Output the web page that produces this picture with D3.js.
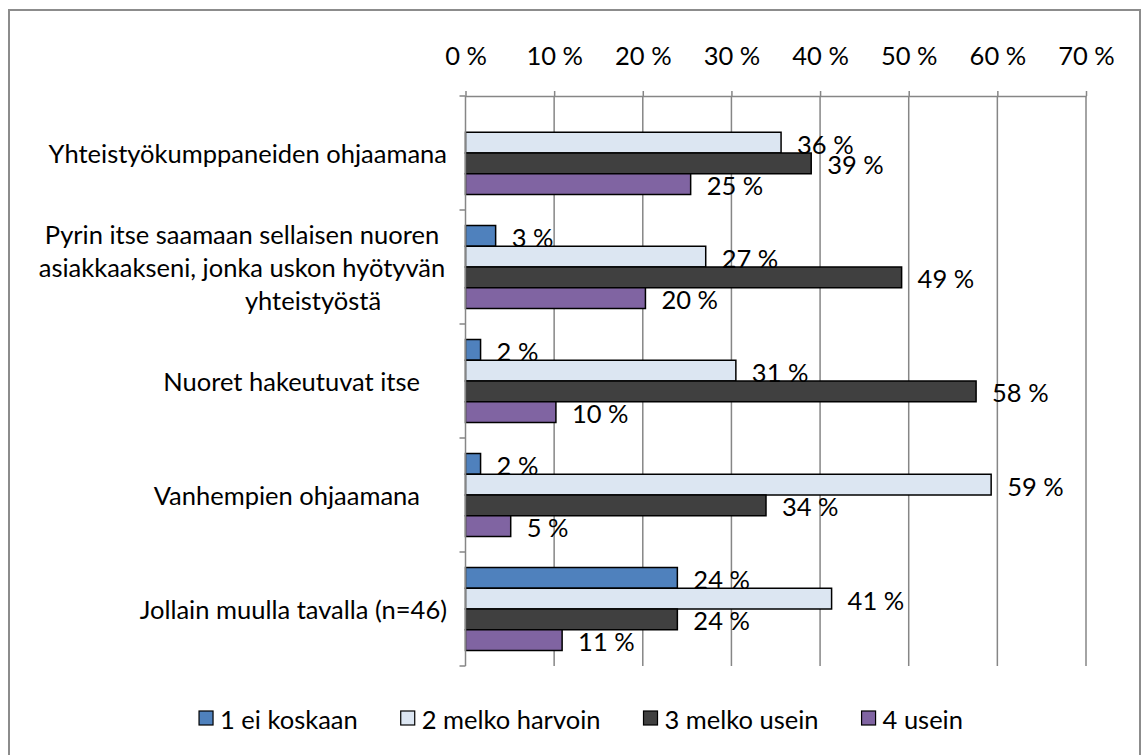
<!DOCTYPE html>
<html>
<head>
<meta charset="utf-8">
<script src="https://cdn.jsdelivr.net/npm/d3@7"></script>
<style>
  body { margin: 0; background: #fff; }
  text { font-family: Lato, "Open Sans", sans-serif; fill: #000; }
</style>
</head>
<body>
<svg id="chart" width="1141" height="755"></svg>
<script>
// data (percent)
var categories = [
    "Yhteistyökumppaneiden ohjaamana",
    "Pyrin itse saamaan sellaisen nuoren\nasiakkaakseni, jonka uskon hyötyvän\nyhteistyöstä",
    "Nuoret hakeutuvat itse",
    "Vanhempien ohjaamana",
    "Jollain muulla tavalla (n=46)"
];
var seriesNames = ["1 ei koskaan", "2 melko harvoin", "3 melko usein", "4 usein"];
var eiKoskaan = [0, 3.4, 1.7, 1.7, 23.9];
var melkoHarvoin = [35.6, 27.1, 30.5, 59.3, 41.3];
var melkoUsein = [39.0, 49.2, 57.6, 33.9, 23.9];
var usein = [25.4, 20.3, 10.2, 5.1, 10.9];
var xTicks = [0, 10, 20, 30, 40, 50, 60, 70];

var seriesValues = [eiKoskaan, melkoHarvoin, melkoUsein, usein];
var colors = ["#4f81bd", "#dce6f2", "#404040", "#8064a2"];
var gridColor = "#868686";

var svg = d3.select("#chart");

// fit a substitute font to the width Calibri had in the original
var probe = svg.append("text").style("font-size", "20px").text(categories[0]);
var fs = Math.round(20 * 399 / probe.node().getComputedTextLength() * 10) / 10;
probe.remove();

// outer frame
svg.append("rect")
    .attr("x", 9).attr("y", 10).attr("width", 1131).attr("height", 800)
    .attr("fill", "none").attr("stroke", "#8c8c8c").attr("stroke-width", 2);

var x = d3.scaleLinear().domain([0, 70]).range([465.5, 1086]);
var y = d3.scaleBand().domain(categories).range([96, 666]);
var inner = d3.scaleBand().domain(seriesNames).range([0, 83]);
var pad = (y.bandwidth() - 83) / 2;

// vertical gridlines
svg.append("g").selectAll("line").data(xTicks.slice(1)).enter().append("line")
    .attr("x1", function (d) { return x(d); }).attr("x2", function (d) { return x(d); })
    .attr("y1", 96).attr("y2", 666)
    .attr("stroke", gridColor).attr("stroke-width", 1.5);

// top value axis
var xAxis = svg.append("g").attr("transform", "translate(0,96)")
    .call(d3.axisTop(x).tickValues(xTicks).tickSize(5).tickSizeOuter(0)
        .tickFormat(function (d) { return d + " %"; }));
xAxis.select(".domain").attr("stroke", gridColor).attr("stroke-width", 1.5);
xAxis.selectAll(".tick line").attr("stroke", gridColor).attr("stroke-width", 1.5);
xAxis.selectAll(".tick text")
    .attr("y", -31).attr("dy", 0)
    .style("font-size", fs + "px").style("font-family", "Lato, 'Open Sans', sans-serif")
    .attr("fill", "#000");

// bars
var rows = [];
categories.forEach(function (c, i) {
    seriesNames.forEach(function (s, j) {
        rows.push({ cat: c, series: s, j: j, v: seriesValues[j][i] });
    });
});

svg.append("g").selectAll("rect").data(rows.filter(function (d) { return d.v > 0; }))
    .enter().append("rect")
    .attr("x", x(0))
    .attr("y", function (d) { return y(d.cat) + pad + inner(d.series); })
    .attr("width", function (d) { return x(d.v) - x(0); })
    .attr("height", inner.bandwidth())
    .attr("fill", function (d) { return colors[d.j]; })
    .attr("stroke", "#000").attr("stroke-width", 1.5);

// data labels
svg.append("g").selectAll("text").data(rows.filter(function (d) { return d.v > 0; }))
    .enter().append("text")
    .attr("x", function (d) { return x(d.v) + 16; })
    .attr("y", function (d) { return y(d.cat) + pad + inner(d.series) + inner.bandwidth() / 2 + 1; })
    .attr("dominant-baseline", "central")
    .style("font-size", fs + "px")
    .text(function (d) { return Math.round(d.v) + " %"; });

// category axis
var yAxis = svg.append("g");
yAxis.append("line").attr("x1", x(0)).attr("x2", x(0)).attr("y1", 96).attr("y2", 666)
    .attr("stroke", gridColor).attr("stroke-width", 1.5);
var bounds = categories.map(function (c) { return y(c); }).concat([y.range()[1]]);
yAxis.selectAll(".tk").data(bounds).enter().append("line")
    .attr("x1", x(0) - 6).attr("x2", x(0))
    .attr("y1", function (d) { return d; }).attr("y2", function (d) { return d; })
    .attr("stroke", gridColor).attr("stroke-width", 1.5);

var lineH = fs * 1.3;
categories.forEach(function (c, i) {
    var lines = c.split("\n");
    var cy = y(c) + y.bandwidth() / 2;
    var t = svg.append("text")
        .style("font-size", fs + "px")
        .attr("text-anchor", lines.length > 1 ? "middle" : "end");
    lines.forEach(function (l, k) {
        // wrapped label: first lines centred, the short last line sits further right as in the original
        var ax = lines.length > 1 ? (k === lines.length - 1 ? 313 : 242) : (i === 2 || i === 3 ? 420 : 447);
        t.append("tspan").attr("x", ax)
            .attr("y", cy + (k - (lines.length - 1) / 2) * lineH)
            .attr("dominant-baseline", "central")
            .text(l);
    });
});

// legend
var legend = svg.append("g").attr("transform", "translate(0,718)");
var items = legend.selectAll("g").data(seriesNames).enter().append("g");
items.append("rect").attr("x", 0).attr("y", -7).attr("width", 14).attr("height", 14)
    .attr("fill", function (d, i) { return colors[i]; })
    .attr("stroke", "#000").attr("stroke-width", 1.2);
items.append("text").attr("x", 21).attr("y", 1).attr("dominant-baseline", "central")
    .style("font-size", fs + "px")
    .text(function (d) { return d; });
var widths = [];
items.each(function () { widths.push(21 + d3.select(this).select("text").node().getComputedTextLength()); });
var total = d3.sum(widths) + 43 * (widths.length - 1);
var pos = 581 - total / 2;
items.attr("transform", function (d, i) {
    var p = pos; pos += widths[i] + 43; return "translate(" + p + ",0)";
});
</script>
</body>
</html>
